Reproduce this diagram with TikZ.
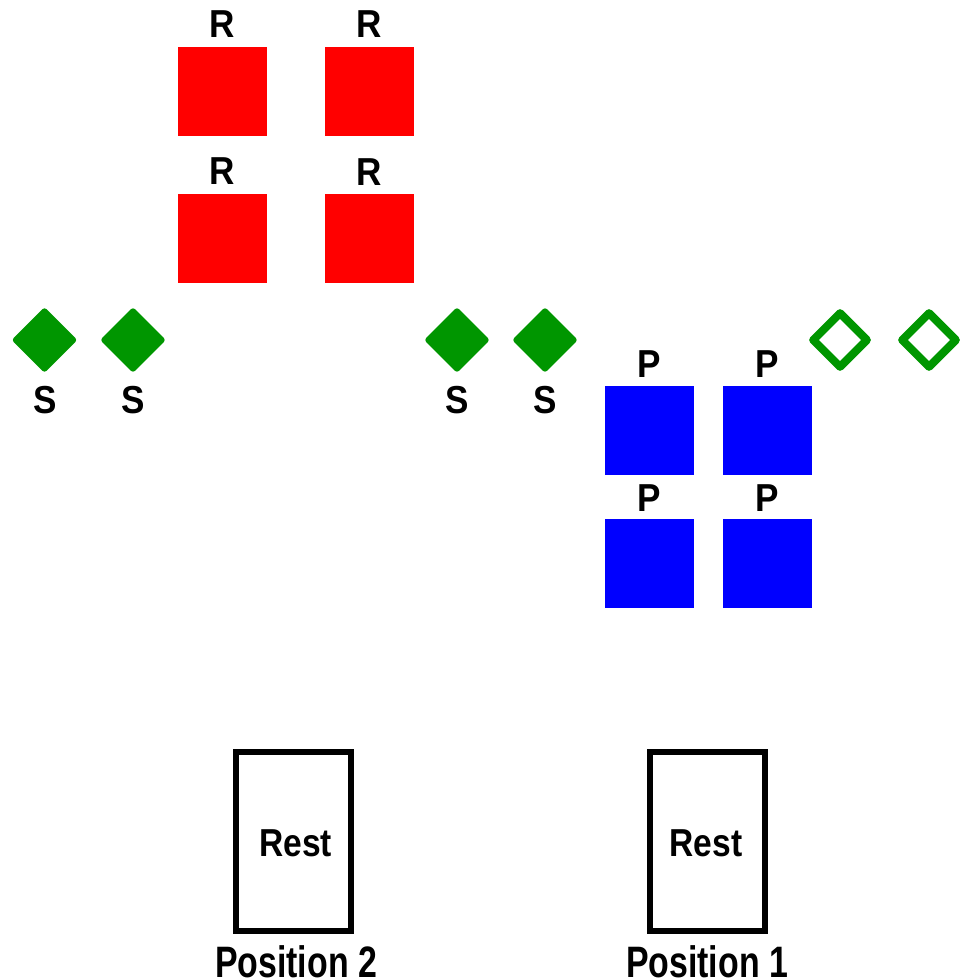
\documentclass[tikz,border=0pt]{standalone}
\usepackage{fontspec}
\setmainfont{Liberation Sans}
\newfontfamily\lblfont[FakeStretch=0.9]{Liberation Sans}
\newfontfamily\restfont[FakeStretch=0.86]{Liberation Sans}
\newfontfamily\posfont[FakeStretch=0.77]{Liberation Sans}
\usetikzlibrary{shapes.geometric}
\definecolor{sgreen}{RGB}{0,150,0}
\definecolor{rred}{RGB}{255,0,0}
\definecolor{pblue}{RGB}{0,0,255}
\tikzset{
  lbl/.style={anchor=base, inner sep=0pt, font=\lblfont\fontsize{39}{39}\selectfont\bfseries},
  rsq/.style={rectangle, fill=rred, minimum size=89pt, inner sep=0pt},
  psq/.style={rectangle, fill=pblue, minimum size=89pt, inner sep=0pt},
  sfill/.style={diamond, aspect=1, fill=sgreen, minimum size=66pt, inner sep=0pt, rounded corners=3pt},
  sopen/.style={diamond, aspect=1, draw=sgreen, line width=8pt, minimum size=57pt, inner sep=0pt, line join=round},
  restbox/.style={rectangle, draw=black, line width=6pt, minimum width=115pt, minimum height=179pt, inner sep=0pt},
  resttxt/.style={anchor=base, inner sep=0pt, font=\restfont\fontsize{39}{39}\selectfont\bfseries},
  poslbl/.style={anchor=base, inner sep=0pt, font=\posfont\fontsize{44}{44}\selectfont\bfseries}
}
\begin{document}
\begin{tikzpicture}[x=1pt,y=-1pt]
\useasboundingbox (0,0) rectangle (969,979);
% red squares
\node[rsq] (r1) at (222.5,91.5) {};
\node[rsq] (r2) at (369.5,91.5) {};
\node[rsq] (r3) at (222.5,238.5) {};
\node[rsq] (r4) at (369.5,238.5) {};
\node[lbl] (lr1) at (222,38) {R};
\node[lbl] (lr2) at (369,38) {R};
\node[lbl] (lr3) at (222,184) {R};
\node[lbl] (lr4) at (369,185) {R};
% green diamonds
\node[sfill] (s1) at (44.5,340) {};
\node[sfill] (s2) at (133,340) {};
\node[sfill] (s3) at (457,340) {};
\node[sfill] (s4) at (545,340) {};
\node[lbl] (ls1) at (45,413) {S};
\node[lbl] (ls2) at (133,413) {S};
\node[lbl] (ls3) at (457,413) {S};
\node[lbl] (ls4) at (545,413) {S};
\node[sopen] (o1) at (840,340) {};
\node[sopen] (o2) at (929,340) {};
% blue squares
\node[psq] (p1) at (649.5,430) {};
\node[psq] (p2) at (767.5,430) {};
\node[psq] (p3) at (649.5,563) {};
\node[psq] (p4) at (767.5,563) {};
\node[lbl] (lp1) at (649,377) {P};
\node[lbl] (lp2) at (767,377) {P};
\node[lbl] (lp3) at (649,511) {P};
\node[lbl] (lp4) at (767,511) {P};
% rest boxes
\node[restbox] (rest2) at (293,841.5) {};
\node[restbox] (rest1) at (707,841) {};
\node[resttxt] (rt2) at (295.5,856) {Rest};
\node[resttxt] (rt1) at (706,856) {Rest};
\node[poslbl] (pos2) at (296,977) {Position 2};
\node[poslbl] (pos1) at (707,977) {Position 1};
\end{tikzpicture}
\end{document}
